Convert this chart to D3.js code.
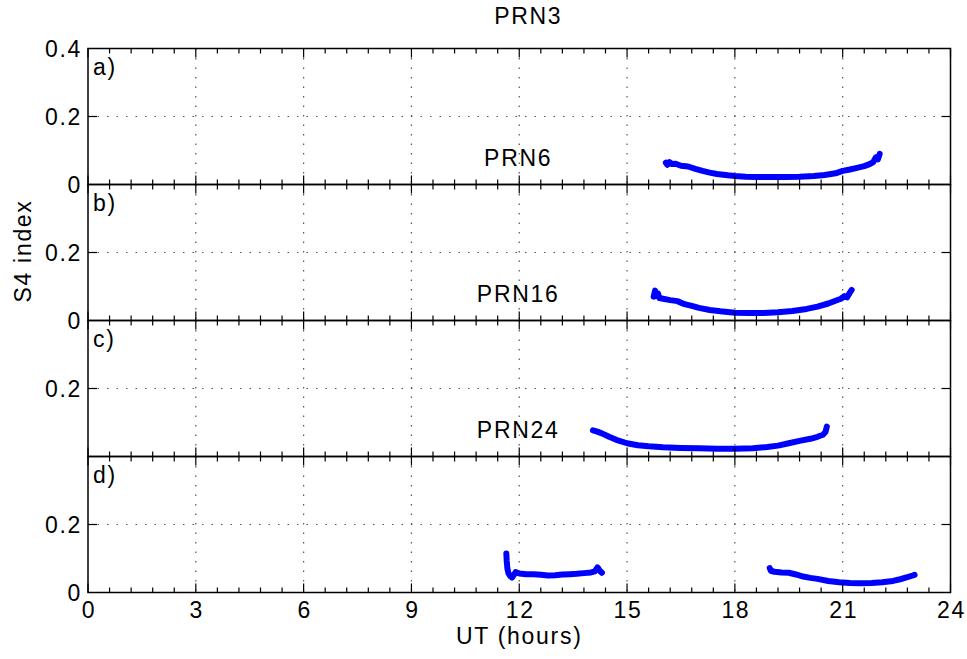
<!DOCTYPE html>
<html>
<head>
<meta charset="utf-8">
<script src="https://cdn.jsdelivr.net/npm/d3@7"></script>
<style>
  body { margin: 0; background: #fff; }
  svg text { font-family: "Liberation Sans", Arial, sans-serif; fill: #000; font-size: 23px; letter-spacing: 1.7px; }
</style>
</head>
<body>
<svg id="chart" width="967" height="659"></svg>
<script>
// S4 index per satellite (UT hours, S4)
const prn3Hours = [16.08, 16.12, 16.18, 16.25, 16.35, 16.5, 16.7, 16.9, 17.1, 17.3, 17.5, 17.8, 18.0, 18.3, 18.6, 19.0, 19.4, 19.8, 20.2, 20.5, 20.8, 21.0, 21.2, 21.4, 21.6, 21.75, 21.85, 21.92, 21.98, 22.03];
const prn3S4    = [0.064, 0.058, 0.066, 0.060, 0.061, 0.055, 0.053, 0.046, 0.040, 0.035, 0.031, 0.027, 0.025, 0.023, 0.022, 0.022, 0.022, 0.023, 0.025, 0.028, 0.033, 0.040, 0.044, 0.049, 0.054, 0.060, 0.066, 0.080, 0.074, 0.090];

const prn6Hours = [15.74, 15.78, 15.82, 15.86, 15.9, 16.0, 16.2, 16.4, 16.6, 16.8, 17.0, 17.3, 17.6, 18.0, 18.4, 18.8, 19.2, 19.6, 20.0, 20.3, 20.6, 20.8, 20.95, 21.05, 21.12, 21.2, 21.25];
const prn6S4    = [0.070, 0.088, 0.072, 0.080, 0.066, 0.064, 0.060, 0.057, 0.048, 0.043, 0.037, 0.031, 0.027, 0.023, 0.022, 0.022, 0.024, 0.028, 0.034, 0.041, 0.050, 0.058, 0.064, 0.072, 0.068, 0.082, 0.090];

const prn16Hours = [14.05, 14.15, 14.3, 14.5, 14.7, 15.0, 15.3, 15.6, 16.0, 16.5, 17.0, 17.5, 18.0, 18.5, 18.9, 19.2, 19.5, 19.8, 20.1, 20.3, 20.45, 20.52, 20.56];
const prn16S4    = [0.077, 0.074, 0.068, 0.058, 0.049, 0.039, 0.033, 0.030, 0.027, 0.025, 0.024, 0.023, 0.023, 0.024, 0.028, 0.032, 0.039, 0.046, 0.052, 0.058, 0.064, 0.072, 0.088];

const prn24aHours = [11.64, 11.65, 11.67, 11.7, 11.75, 11.8, 11.85, 11.9, 12.0, 12.2, 12.4, 12.6, 12.8, 13.0, 13.2, 13.4, 13.6, 13.8, 14.0, 14.1, 14.18, 14.24, 14.3];
const prn24aS4    = [0.115, 0.095, 0.070, 0.056, 0.048, 0.044, 0.052, 0.060, 0.056, 0.054, 0.054, 0.052, 0.050, 0.051, 0.053, 0.054, 0.055, 0.057, 0.059, 0.062, 0.074, 0.064, 0.058];

const prn24bHours = [18.97, 19.0, 19.1, 19.3, 19.5, 19.7, 19.9, 20.1, 20.3, 20.6, 20.9, 21.2, 21.5, 21.8, 22.1, 22.4, 22.6, 22.8, 22.95, 23.0];
const prn24bS4    = [0.072, 0.064, 0.061, 0.059, 0.058, 0.053, 0.047, 0.043, 0.040, 0.034, 0.030, 0.028, 0.027, 0.028, 0.030, 0.034, 0.039, 0.045, 0.050, 0.052];

const panelLetters = ["a)", "b)", "c)", "d)"];
const xTicks = [0, 3, 6, 9, 12, 15, 18, 21, 24];
// which y tick labels each panel shows
const yTickLabels = [[0, 0.2, 0.4], [0, 0.2], [0.2], [0, 0.2]];

const panels = [
  { series: [[prn3Hours, prn3S4]] },
  { series: [[prn6Hours, prn6S4]], title: "PRN6" },
  { series: [[prn16Hours, prn16S4]], title: "PRN16" },
  { series: [[prn24aHours, prn24aS4], [prn24bHours, prn24bS4]], title: "PRN24" }
];

const margin = { top: 48.5, left: 88, right: 16.5 },
    width = 967 - margin.left - margin.right,
    panelH = 136;

const svg = d3.select("#chart");

const x = d3.scaleLinear().domain([0, 24]).range([0, width]);
const y = d3.scaleLinear().domain([0, 0.4]).range([panelH, 0]);

const minorTicks = d3.range(0, 24.0001, 0.6).filter(t => Math.abs(t / 3 - Math.round(t / 3)) > 1e-6);

const line = d3.line()
    .x(d => x(d[0]))
    .y(d => y(d[1]));

panels.forEach(function (p, i) {
  const g = svg.append("g")
      .attr("transform", "translate(" + margin.left + "," + (margin.top + i * panelH) + ")");

  // dotted grid
  g.append("g").selectAll("line.vg")
      .data(xTicks.slice(1, -1))
      .join("line")
      .attr("x1", d => x(d)).attr("x2", d => x(d))
      .attr("y1", 0).attr("y2", panelH)
      .attr("stroke", "#555").attr("stroke-width", 1.2)
      .attr("stroke-dasharray", "1.5,8");
  g.append("line")
      .attr("x1", 0).attr("x2", width)
      .attr("y1", y(0.2)).attr("y2", y(0.2))
      .attr("stroke", "#555").attr("stroke-width", 1.2)
      .attr("stroke-dasharray", "1.5,8");

  // data
  p.series.forEach(function (s) {
    const pts = s[0].map((h, k) => [h, s[1][k]]);
    g.append("path")
        .datum(pts)
        .attr("fill", "none")
        .attr("stroke", "#0000ff")
        .attr("stroke-width", 6)
        .attr("stroke-linejoin", "round")
        .attr("stroke-linecap", "round")
        .attr("d", line);
  });

  // box
  g.append("rect")
      .attr("width", width).attr("height", panelH)
      .attr("fill", "none").attr("stroke", "#000").attr("stroke-width", 1.5);

  // x ticks, top and bottom, pointing inward
  const tickG = g.append("g").attr("stroke", "#000").attr("stroke-width", 1.2);
  [[xTicks, 9], [minorTicks, 5]].forEach(function (t) {
    tickG.selectAll(null).data(t[0]).join("line")
        .attr("x1", d => x(d)).attr("x2", d => x(d))
        .attr("y1", panelH).attr("y2", panelH - t[1]);
    tickG.selectAll(null).data(t[0]).join("line")
        .attr("x1", d => x(d)).attr("x2", d => x(d))
        .attr("y1", 0).attr("y2", t[1]);
  });
  // y ticks at 0.2, left and right
  tickG.append("line").attr("x1", 0).attr("x2", 9).attr("y1", y(0.2)).attr("y2", y(0.2));
  tickG.append("line").attr("x1", width).attr("x2", width - 9).attr("y1", y(0.2)).attr("y2", y(0.2));

  // y tick labels
  g.selectAll("text.yl")
      .data(yTickLabels[i])
      .join("text")
      .attr("x", -6)
      .attr("y", d => y(d))
      .attr("dy", "0.36em")
      .attr("text-anchor", "end")
      .text(d => d === 0 ? "0" : d3.format(".1f")(d));

  // panel letter
  g.append("text")
      .attr("x", 5).attr("y", 26)
      .text(panelLetters[i]);

  // subplot title sits above its own panel
  if (p.title) {
    svg.append("text")
        .attr("x", margin.left + x(11.97))
        .attr("y", margin.top + i * panelH - 19)
        .attr("text-anchor", "middle")
        .text(p.title);
  }
});

const bottom = margin.top + panels.length * panelH;

// x tick labels
svg.selectAll("text.xl")
    .data(xTicks)
    .join("text")
    .attr("x", d => margin.left + x(d) + 1)
    .attr("y", bottom + 25)
    .attr("text-anchor", "middle")
    .text(d => d);

svg.append("text")
    .attr("x", margin.left + x(12.0))
    .attr("y", bottom + 51)
    .attr("text-anchor", "middle")
    .text("UT (hours)");

svg.append("text")
    .attr("x", margin.left + x(12.25))
    .attr("y", 24)
    .attr("text-anchor", "middle")
    .text("PRN3");

svg.append("text")
    .attr("transform", "translate(31,251) rotate(-90)")
    .attr("text-anchor", "middle")
    .text("S4 index");
</script>
</body>
</html>
